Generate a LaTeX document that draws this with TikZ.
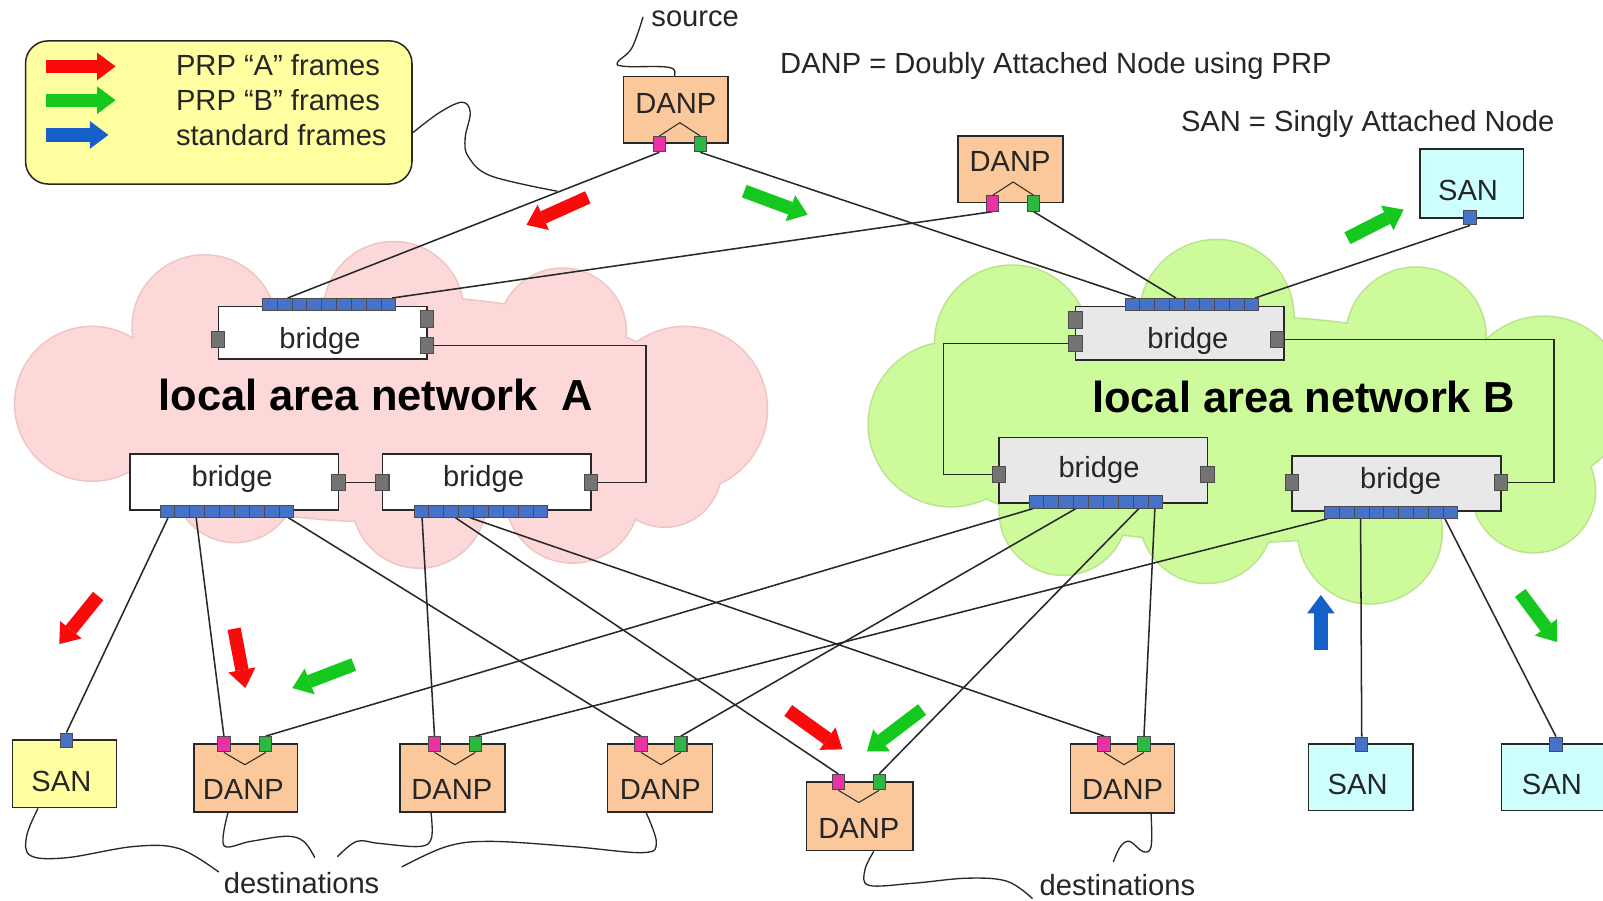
\documentclass[tikz,border=0pt]{standalone}
\usepackage{fontspec}
\setmainfont{Liberation Sans}
\usetikzlibrary{arrows.meta,calc,backgrounds}
\definecolor{danpc}{RGB}{250,200,155}
\definecolor{sanY}{RGB}{255,255,160}
\definecolor{sanC}{RGB}{205,255,255}
\definecolor{legc}{RGB}{255,255,160}
\definecolor{cloudA}{RGB}{253,216,216}
\definecolor{cloudAl}{RGB}{238,196,196}
\definecolor{cloudB}{RGB}{205,250,155}
\definecolor{cloudBl}{RGB}{185,228,140}
\definecolor{brB}{RGB}{232,232,232}
\definecolor{portg}{RGB}{115,115,115}
\definecolor{stripc}{RGB}{70,115,200}
\definecolor{pinkp}{RGB}{235,50,165}
\definecolor{greenp}{RGB}{45,185,65}
\definecolor{arrR}{RGB}{250,10,10}
\definecolor{arrG}{RGB}{20,200,30}
\definecolor{arrB}{RGB}{20,95,200}
\definecolor{linec}{RGB}{40,40,40}
\tikzset{
  box/.style={draw=linec, line width=1.5pt, inner sep=0pt, minimum width=102pt, minimum height=66pt},
  danp/.style={box, fill=danpc},
  sany/.style={box, fill=sanY},
  sanc/.style={box, fill=sanC},
  bridgeA/.style={draw=linec, line width=1.5pt, fill=white, inner sep=0pt, minimum width=204pt},
  bridgeB/.style={bridgeA, fill=brB},
  lbl/.style={font=\fontsize{28.5}{30}\selectfont, inner sep=0pt, text=black!85},
  ttl/.style={font=\fontsize{42.5}{44}\selectfont\bfseries, inner sep=0pt},
  pport/.style={draw=black!70, line width=1pt, fill=pinkp, minimum width=12pt, minimum height=15pt, inner sep=0pt},
  gport/.style={pport, fill=greenp},
  bport/.style={pport, fill=stripc, minimum height=14pt},
  gyport/.style={pport, fill=portg, minimum width=13pt, minimum height=16pt},
  stripn/.style={draw=black!70, line width=1pt, fill=stripc, minimum width=130pt, minimum height=12pt, inner sep=0pt},
  conn/.style={draw=linec, line width=1.5pt},
  inner/.style={draw=linec, line width=1pt},
  callout/.style={draw=linec, line width=1.3pt},
  barrow/.style={line width=13pt, -{Triangle[length=18pt,width=27pt,line width=0pt]}},
}
\newcommand{\cells}[1]{\foreach \i in {1,...,8}{\draw[black!70,line width=0.9pt] ($(#1.south west)!\i/9!(#1.south east)$) -- ($(#1.north west)!\i/9!(#1.north east)$);}}
\begin{document}
\begin{tikzpicture}[x=1pt,y=-1pt]
\useasboundingbox (0,0) rectangle (1568,881);

% clouds
\begin{pgfonlayer}{background}
\fill[white] (0,0) rectangle (1568,881);
\foreach \x/\y/\r in {90/395/75, 200/320/70, 385/305/68, 550/325/62, 670/400/80, 230/470/60, 410/490/65, 560/485/65, 650/460/55}
  {\draw[cloudAl, line width=3pt] (\x,\y) circle [radius=\r];}
\draw[cloudAl, line width=3pt] (380,400) ellipse [x radius=300, y radius=110];
\foreach \x/\y/\r in {90/395/75, 200/320/70, 385/305/68, 550/325/62, 670/400/80, 230/470/60, 410/490/65, 560/485/65, 650/460/55}
  {\fill[cloudA] (\x,\y) circle [radius=\r];}
\fill[cloudA] (380,400) ellipse [x radius=300, y radius=110];
\foreach \x/\y/\r in {930/415/80, 990/335/75, 1190/310/75, 1385/330/68, 1510/390/80, 1040/500/62, 1180/505/65, 1340/520/70, 1500/480/60}
  {\draw[cloudBl, line width=3pt] (\x,\y) circle [radius=\r];}
\draw[cloudBl, line width=3pt] (1210,420) ellipse [x radius=310, y radius=110];
\foreach \x/\y/\r in {930/415/80, 990/335/75, 1190/310/75, 1385/330/68, 1510/390/80, 1040/500/62, 1180/505/65, 1340/520/70, 1500/480/60}
  {\fill[cloudB] (\x,\y) circle [radius=\r];}
\fill[cloudB] (1210,420) ellipse [x radius=310, y radius=110];
\end{pgfonlayer}

% legend
\node[draw=linec, line width=1.5pt, rounded corners=22pt, fill=legc, minimum width=378pt, minimum height=140pt, inner sep=0pt] (leg) at (214,110) {};
\node[lbl, anchor=base west] (l1) at (172,74) {PRP “A” frames};
\node[lbl, anchor=base west] (l2) at (172,108) {PRP “B” frames};
\node[lbl, anchor=base west] (l3) at (172,142) {standard frames};
\draw[barrow, arrR] (45,65) -- (113,65);
\draw[barrow, arrG] (45,98) -- (113,98);
\draw[barrow, arrB] (45,132) -- (106,132);

% top texts
\node[lbl, anchor=base] (src) at (680,26) {source};
\node[lbl, anchor=base west] (def1) at (763,72) {DANP = Doubly Attached Node using PRP};
\node[lbl, anchor=base west] (def2) at (1155,129) {SAN = Singly Attached Node};

% titles
\node[ttl, anchor=base west] (tA) at (155,402) {local area network\ \ A};
\node[ttl, anchor=base west] (tB) at (1068,403) {local area network B};

% top nodes
\node[danp, minimum height=65pt] (sD) at (661,107.5) {};
\node[lbl, anchor=base] (sDt) at (661,111) {DANP};
\node[pport] (sDp) at (645,141) {};
\node[gport] (sDg) at (685,141) {};
\draw[inner] (sDp.north) -- ($(sDp.north)!0.5!(sDg.north)+(0,-13)$) -- (sDg.north);

\node[danp, minimum width=103pt, minimum height=65pt] (tD) at (988.5,165.5) {};
\node[lbl, anchor=base] (tDt) at (988,168) {DANP};
\node[pport] (tDp) at (971,199) {};
\node[gport] (tDg) at (1011,199) {};
\draw[inner] (tDp.north) -- ($(tDp.north)!0.5!(tDg.north)+(0,-13)$) -- (tDg.north);

\node[sanc, minimum width=101pt, minimum height=67pt] (tS) at (1439.5,179.5) {};
\node[lbl, anchor=base] (tSt) at (1436,196) {SAN};
\node[bport] (tSp) at (1438,213) {};

% bridges
\node[bridgeA, minimum height=51pt] (A1) at (315.5,325.5) {};
\node[lbl, anchor=base] (A1t) at (313,341) {bridge};
\node[bridgeA, minimum height=55pt] (A2) at (229,471.5) {};
\node[lbl, anchor=base] (A2t) at (227,476) {bridge};
\node[bridgeA, minimum height=55pt] (A3) at (476,471.5) {};
\node[lbl, anchor=base] (A3t) at (473,476) {bridge};
\node[bridgeB, minimum height=52pt] (B1) at (1154,326) {};
\node[lbl, anchor=base] (B1t) at (1162,341) {bridge};
\node[bridgeB, minimum height=64pt] (B2) at (1079,460) {};
\node[lbl, anchor=base] (B2t) at (1075,467) {bridge};
\node[bridgeB, minimum height=54pt] (B3) at (1366,473) {};
\node[lbl, anchor=base] (B3t) at (1370,478) {bridge};

% strips
\node[stripn] (A1s) at (322,298) {}; \cells{A1s}
\node[stripn] (A2s) at (222,500) {}; \cells{A2s}
\node[stripn] (A3s) at (470.5,500) {}; \cells{A3s}
\node[stripn] (B1s) at (1166,298) {}; \cells{B1s}
\node[stripn] (B2s) at (1072,491) {}; \cells{B2s}
\node[stripn] (B3s) at (1361,501) {}; \cells{B3s}

% bridge ports
\node[gyport] (A1l) at (213,332) {};
\node[gyport] (A1r1) at (418,312) {};
\node[gyport] (A1r2) at (418,338) {};
\node[gyport] (A2r) at (331,472) {};
\node[gyport] (A3l) at (374,472) {};
\node[gyport] (A3r) at (578,472) {};
\node[gyport] (B1l1) at (1052,313) {};
\node[gyport] (B1l2) at (1052,336) {};
\node[gyport] (B1r) at (1249,332) {};
\node[gyport] (B2l) at (977,464) {};
\node[gyport] (B2r) at (1181,464) {};
\node[gyport] (B3l) at (1264,472) {};
\node[gyport] (B3r) at (1468,472) {};

% bottom nodes
\node[sany] (bS) at (63,757) {};
\node[lbl, anchor=base] (bSt) at (60,774) {SAN};
\node[bport] (bSp) at (65,724) {};

\node[danp, minimum width=101pt] (D1) at (240.5,761) {};
\node[lbl, anchor=base] (D1t) at (238,782) {DANP};
\node[pport] (D1p) at (219,728) {};
\node[gport] (D1g) at (260,728) {};
\node[danp, minimum width=103pt] (D2) at (442.5,761) {};
\node[lbl, anchor=base] (D2t) at (442,782) {DANP};
\node[pport] (D2p) at (425,728) {};
\node[gport] (D2g) at (465,728) {};
\node[danp, minimum width=103pt] (D3) at (645.5,761) {};
\node[lbl, anchor=base] (D3t) at (646,782) {DANP};
\node[pport] (D3p) at (627,728) {};
\node[gport] (D3g) at (666,728) {};
\node[danp, minimum width=104pt, minimum height=67pt] (D4) at (841,798.5) {};
\node[lbl, anchor=base] (D4t) at (840,820) {DANP};
\node[pport] (D4p) at (820,765) {};
\node[gport] (D4g) at (860,765) {};
\node[danp, minimum height=67pt] (D5) at (1098,761.5) {};
\node[lbl, anchor=base] (D5t) at (1098,782) {DANP};
\node[pport] (D5p) at (1080,728) {};
\node[gport] (D5g) at (1119,728) {};
\foreach \d in {D1,D2,D3,D4,D5}
  {\draw[inner] (\d p.south) -- ($(\d p.south)!0.5!(\d g.south)+(0,12)$) -- (\d g.south);}

\node[sanc, minimum height=65pt] (S1) at (1331,760.5) {};
\node[lbl, anchor=base] (S1t) at (1328,777) {SAN};
\node[bport] (S1p) at (1332,728) {};
\node[sanc, minimum height=65pt] (S2) at (1519.5,760.5) {};
\node[lbl, anchor=base] (S2t) at (1518,777) {SAN};
\node[bport] (S2p) at (1522,728) {};

% destinations
\node[lbl, anchor=base] (dst1) at (295,874) {destinations};
\node[lbl, anchor=base] (dst2) at (1093,876) {destinations};

% connectors and callouts (behind nodes)
\begin{pgfonlayer}{background}
\draw[conn] (sDp.south) -- ($(A1s.north west)!0.19!(A1s.north east)$);
\draw[conn] (tDp.south) -- ($(A1s.north west)!0.97!(A1s.north east)$);
\draw[conn] (sDg.south) -- ($(B1s.north west)!0.08!(B1s.north east)$);
\draw[conn] (tDg.south) -- ($(B1s.north west)!0.38!(B1s.north east)$);
\draw[conn] (tSp.south) -- ($(B1s.north west)!0.97!(B1s.north east)$);

\draw[conn] ($(A2s.south west)!0.06!(A2s.south east)$) -- (bSp.north);
\draw[conn] ($(A2s.south west)!0.27!(A2s.south east)$) -- (D1p.north);
\draw[conn] ($(A2s.south west)!0.96!(A2s.south east)$) -- (D3p.north);
\draw[conn] ($(A3s.south west)!0.06!(A3s.south east)$) -- (D2p.north);
\draw[conn] ($(A3s.south west)!0.31!(A3s.south east)$) -- (D4p.north);
\draw[conn] ($(A3s.south west)!0.42!(A3s.south east)$) -- (D5p.north);
\draw[conn] ($(B2s.south west)!0.03!(B2s.south east)$) -- (D1g.north);
\draw[conn] ($(B2s.south west)!0.35!(B2s.south east)$) -- (D3g.north);
\draw[conn] ($(B2s.south west)!0.82!(B2s.south east)$) -- (D4g.north);
\draw[conn] ($(B2s.south west)!0.94!(B2s.south east)$) -- (D5g.north);
\draw[conn] ($(B3s.south west)!0.02!(B3s.south east)$) -- (D2g.north);
\draw[conn] ($(B3s.south west)!0.27!(B3s.south east)$) -- (S1p.north);
\draw[conn] ($(B3s.south west)!0.90!(B3s.south east)$) -- (S2p.north);

\draw[conn] (A2r) -- (A3l);
\draw[conn] (A1r2.east) -| ($(A3r.east)+(47,0)$) -- (A3r.east);
\draw[conn] (B1r.east) -| ($(B3r.east)+(45,0)$) -- (B3r.east);
\draw[conn] (B1l2.west) -| ($(B2l.west)+(-47,0)$) -- (B2l.west);

\draw[callout] plot[smooth, tension=0.6] coordinates {($(leg.north east)!0.64!(leg.south east)$) (430,110) (452,100) (460,110) (455,135) (458,153) (480,172) (545,187)};
\draw[callout] plot[smooth, tension=0.6] coordinates {($(src.west)+(-8,-2)$) (618,47) (604,61) (612,65) (655,66) (660,76) (660,88)};
\draw[callout] plot[smooth, tension=0.6] coordinates {($(bS.south west)!0.25!(bS.south east)$) (26,818) (30,837) (65,839) (131,828) (175,830) (214,853)};
\draw[callout] plot[smooth, tension=0.6] coordinates {($(D1.south west)!0.33!(D1.south east)$) (219,827) (245,823) (280,818) (297,823) (308,839)};
\draw[callout] plot[smooth, tension=0.6] coordinates {(330,838) (349,823) (371,825) (410,828) (422,820) ($(D2.south west)!0.3!(D2.south east)$)};
\draw[callout] plot[smooth, tension=0.6] coordinates {(393,848) (437,828) (480,823) (559,828) (629,834) (642,824) ($(D3.south west)!0.37!(D3.south east)$)};
\draw[callout] plot[smooth, tension=0.6] coordinates {($(D4.south west)!0.63!(D4.south east)$) (846,851) (850,866) (893,864) (946,859) (985,862) (1010,879)};
\draw[callout] plot[smooth, tension=0.6] coordinates {($(D5.south west)!0.77!(D5.south east)$) (1126,828) (1118,833) (1105,823) (1096,828) (1089,843)};
\end{pgfonlayer}

% flow arrows
\draw[barrow, arrR] (575,193) -- (515,220);
\draw[barrow, arrG] (728,187) -- (790,210);
\draw[barrow, arrG] (1318,233) -- (1373,205);
\draw[barrow, arrR] (96,583) -- (58,630);
\draw[barrow, arrR] (229,615) -- (240,673);
\draw[barrow, arrG] (346,650) -- (286,673);
\draw[barrow, arrR] (771,695) -- (824,733);
\draw[barrow, arrG] (902,694) -- (848,735);
\draw[barrow, arrB] (1292,636) -- (1292,582);
\draw[barrow, arrG] (1487,580) -- (1523,628);
\end{tikzpicture}
\end{document}
